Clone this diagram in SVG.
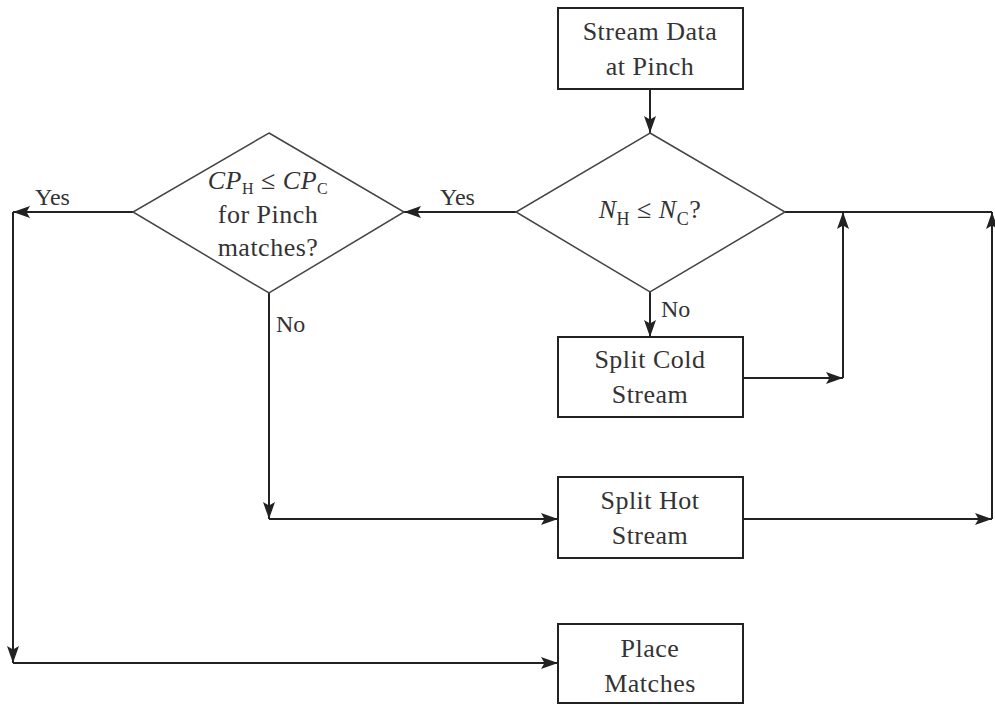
<svg xmlns="http://www.w3.org/2000/svg" width="995" height="705" viewBox="0 0 995 705">
<style>
.box{fill:#fff;stroke:#222;stroke-width:2}
.dia{fill:#fff;stroke:#444;stroke-width:1.5}
.t{font-family:"Liberation Serif","Times New Roman",serif;font-size:26px;fill:#333;text-anchor:middle;letter-spacing:0.5px}
.lbl{font-family:"Liberation Serif","Times New Roman",serif;font-size:24px;fill:#333}
.c{fill:none;stroke:#222;stroke-width:2}
</style>
<defs>
<marker id="ah" markerUnits="userSpaceOnUse" markerWidth="18" markerHeight="14" refX="17" refY="7" orient="auto">
<path d="M0,1 L17,7 L0,13 L3.5,7 z" fill="#222"/>
</marker>
</defs>
<rect width="995" height="705" fill="#fff"/>
<g id="connectors">
<path class="c" d="M650,89 V133" marker-end="url(#ah)"/>
<path class="c" d="M516,212 H404" marker-end="url(#ah)"/>
<path class="c" d="M650,292 V337" marker-end="url(#ah)"/>
<path class="c" d="M743,378 H843" marker-end="url(#ah)"/>
<path class="c" d="M843,378 V212" marker-end="url(#ah)"/>
<path class="c" d="M785,212 H992"/>
<path class="c" d="M743,519 H992" marker-end="url(#ah)"/>
<path class="c" d="M992,519 V212" marker-end="url(#ah)"/>
<path class="c" d="M133,212 H13" marker-end="url(#ah)"/>
<path class="c" d="M13,212 V663" marker-end="url(#ah)"/>
<path class="c" d="M13,663 H558" marker-end="url(#ah)"/>
<path class="c" d="M269,293 V519" marker-end="url(#ah)"/>
<path class="c" d="M269,519 H558" marker-end="url(#ah)"/>
<text class="lbl" x="440" y="205">Yes</text>
<text class="lbl" x="35" y="205">Yes</text>
<text class="lbl" x="661" y="317">No</text>
<text class="lbl" x="276" y="332">No</text>
</g>
<g id="stream-data">
<rect class="box" x="558" y="8" width="185" height="81"/>
<text class="t" x="650" y="40">Stream Data</text>
<text class="t" x="650" y="75">at Pinch</text>
</g>
<g id="nh-nc">
<polygon class="dia" points="650,133 785,212 650,292 516,212"/>
<text class="t" x="650" y="218"><tspan font-style="italic">N</tspan><tspan font-size="18" dy="7">H</tspan><tspan dy="-7"> ≤ </tspan><tspan font-style="italic">N</tspan><tspan font-size="18" dy="7">C</tspan><tspan dy="-7">?</tspan></text>
</g>
<g id="cp-check">
<polygon class="dia" points="269,133 404,212 269,293 133,212"/>
<text class="t" x="268" y="189"><tspan font-style="italic">CP</tspan><tspan font-size="16" dy="5">H</tspan><tspan dy="-5"> ≤ </tspan><tspan font-style="italic">CP</tspan><tspan font-size="16" dy="5">C</tspan></text>
<text class="t" x="268" y="223">for Pinch</text>
<text class="t" x="268" y="256">matches?</text>
</g>
<g id="split-cold">
<rect class="box" x="558" y="337" width="185" height="80"/>
<text class="t" x="650" y="368">Split Cold</text>
<text class="t" x="650" y="403">Stream</text>
</g>
<g id="split-hot">
<rect class="box" x="558" y="477" width="185" height="81"/>
<text class="t" x="650" y="509">Split Hot</text>
<text class="t" x="650" y="544">Stream</text>
</g>
<g id="place-matches">
<rect class="box" x="558" y="624" width="185" height="79"/>
<text class="t" x="650" y="657">Place</text>
<text class="t" x="650" y="692">Matches</text>
</g>
</svg>
